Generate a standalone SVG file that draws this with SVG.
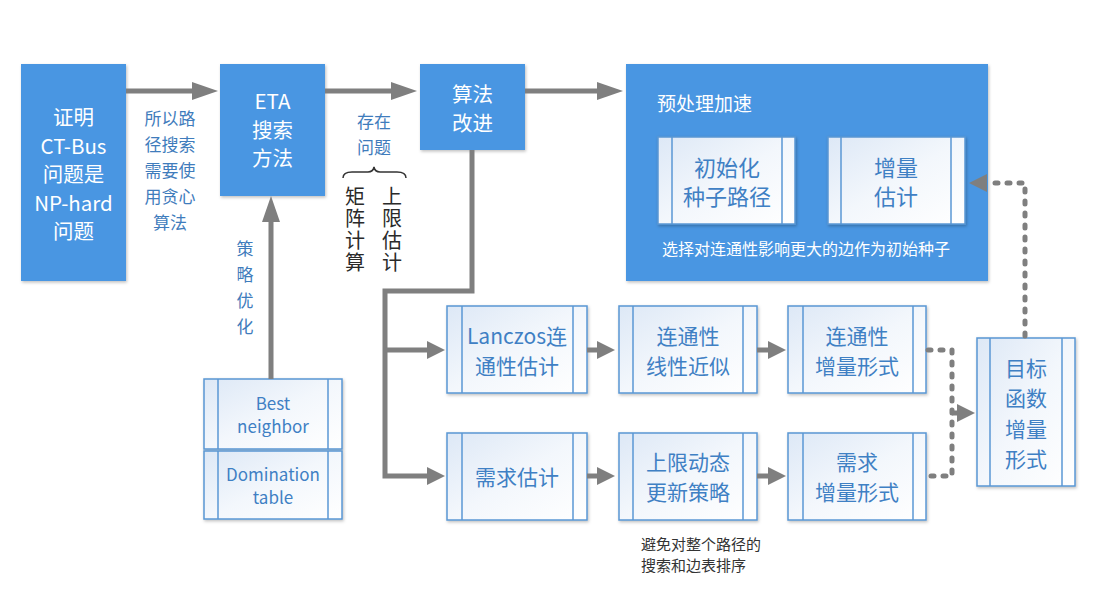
<svg xmlns="http://www.w3.org/2000/svg" width="1098" height="589" viewBox="0 0 1098 589">
<style>
text{font-family:"Noto Sans CJK SC","Open Sans",sans-serif;text-anchor:middle;dominant-baseline:central}
.blue{fill:#4896e2;filter:url(#sh)}
.wt{fill:#fff;font-size:20.5px}
.lb{fill:#3f7cbc;font-size:17px}
.card{fill:url(#g);stroke:#5a97d4;stroke-width:1.5;filter:url(#sh)}
.strip{stroke:#5a97d4;stroke-width:1.5}
.ct{fill:#3f80c4;font-size:21px}
.dk{fill:#2a2a2a;font-size:20px}
.vt{writing-mode:vertical-rl;text-anchor:start}
.cap{fill:#333;font-size:15px;text-anchor:start}
.ln{fill:none;stroke:#7f7f7f;stroke-width:5}
.dash{fill:none;stroke:#7f7f7f;stroke-width:5;stroke-dasharray:3 9;stroke-linecap:round}
</style>
<defs>
<linearGradient id="g" x1="0" y1="0" x2="1" y2="1">
<stop offset="0" stop-color="#dde8f6"/>
<stop offset="0.5" stop-color="#f3f7fc"/>
<stop offset="1" stop-color="#ffffff"/>
</linearGradient>
<filter id="sh" x="-10%" y="-10%" width="120%" height="120%">
<feDropShadow dx="1" dy="1.5" stdDeviation="1.5" flood-color="#000" flood-opacity="0.25"/>
</filter>
<marker id="ah" markerUnits="userSpaceOnUse" markerWidth="26" markerHeight="18" refX="16" refY="9" orient="auto">
<path d="M0,0 L26,9 L0,18 z" fill="#7f7f7f"/>
</marker>
<marker id="as" markerUnits="userSpaceOnUse" markerWidth="18" markerHeight="18" refX="10" refY="9" orient="auto">
<path d="M0,0 L18,9 L0,18 z" fill="#7f7f7f"/>
</marker>
</defs>
<rect width="1098" height="589" fill="#fff"/>

<g id="n-np">
<rect class="blue" x="21" y="64" width="105" height="217"/>
<text class="wt" x="73.5" y="116"><tspan x="73.5">证明</tspan><tspan x="73.5" dy="28.5">CT-Bus</tspan><tspan x="73.5" dy="28.5">问题是</tspan><tspan x="73.5" dy="28.5">NP-hard</tspan><tspan x="73.5" dy="28.5">问题</tspan></text>
</g>
<g id="l-greedy">
<text class="lb" x="170" y="117"><tspan x="170">所以路</tspan><tspan x="170" dy="26">径搜索</tspan><tspan x="170" dy="26">需要使</tspan><tspan x="170" dy="26">用贪心</tspan><tspan x="170" dy="26">算法</tspan></text>
</g>
<g id="n-eta">
<rect class="blue" x="220" y="64" width="105" height="132"/>
<text class="wt" x="272.5" y="100"><tspan x="272.5">ETA</tspan><tspan x="272.5" dy="28.5">搜索</tspan><tspan x="272.5" dy="28.5">方法</tspan></text>
</g>
<g id="l-problem">
<text class="lb" x="374" y="120"><tspan x="374">存在</tspan><tspan x="374" dy="26">问题</tspan></text>
<text class="dk vt" x="355" y="186" style="letter-spacing:2px">矩阵计算</text>
<text class="dk vt" x="392" y="186" style="letter-spacing:2px">上限估计</text>
</g>
<g id="l-strategy">
<text class="lb vt" x="245" y="240" style="letter-spacing:9px">策略优化</text>
</g>
<g id="n-algo">
<rect class="blue" x="420" y="64" width="105" height="86"/>
<text class="wt" x="472.5" y="93"><tspan x="472.5">算法</tspan><tspan x="472.5" dy="29">改进</tspan></text>
</g>
<g id="n-pre">
<rect class="blue" x="626" y="64" width="362" height="217"/>
<text class="wt" x="657" y="102" style="text-anchor:start;font-size:19px">预处理加速</text>
<text x="806" y="248" style="fill:#fff;font-size:16px">选择对连通性影响更大的边作为初始种子</text>
</g>
<g id="n-init">
<rect class="card" x="658" y="137" width="137" height="87"/>
<line class="strip" x1="672" y1="137" x2="672" y2="224"/>
<line class="strip" x1="782" y1="137" x2="782" y2="224"/>
<text class="ct" x="727" y="166" style="font-size:22px"><tspan x="727">初始化</tspan><tspan x="727" dy="29">种子路径</tspan></text>
</g>
<g id="n-incest">
<rect class="card" x="828" y="137" width="137" height="87"/>
<line class="strip" x1="841" y1="137" x2="841" y2="224"/>
<line class="strip" x1="951" y1="137" x2="951" y2="224"/>
<text class="ct" x="896" y="166" style="font-size:22px"><tspan x="896">增量</tspan><tspan x="896" dy="29">估计</tspan></text>
</g>
<g id="n-best">
<rect class="card" x="204" y="379" width="138" height="70"/>
<line class="strip" x1="218" y1="379" x2="218" y2="449"/>
<line class="strip" x1="328" y1="379" x2="328" y2="449"/>
<text class="ct" x="273" y="402" style="font-size:17px"><tspan x="273">Best</tspan><tspan x="273" dy="23">neighbor</tspan></text>
</g>
<g id="n-dom">
<rect class="card" x="204" y="451" width="138" height="68"/>
<line class="strip" x1="218" y1="451" x2="218" y2="519"/>
<line class="strip" x1="328" y1="451" x2="328" y2="519"/>
<text class="ct" x="273" y="473" style="font-size:17px"><tspan x="273">Domination</tspan><tspan x="273" dy="23">table</tspan></text>
</g>
<g id="n-lanczos">
<rect class="card" x="447" y="306" width="140" height="87"/>
<line class="strip" x1="462" y1="306" x2="462" y2="393"/>
<line class="strip" x1="573" y1="306" x2="573" y2="393"/>
<text class="ct" x="517" y="335"><tspan x="517">Lanczos连</tspan><tspan x="517" dy="30">通性估计</tspan></text>
</g>
<g id="n-linear">
<rect class="card" x="619" y="306" width="138" height="87"/>
<line class="strip" x1="633" y1="306" x2="633" y2="393"/>
<line class="strip" x1="743" y1="306" x2="743" y2="393"/>
<text class="ct" x="688" y="335"><tspan x="688">连通性</tspan><tspan x="688" dy="30">线性近似</tspan></text>
</g>
<g id="n-connincr">
<rect class="card" x="788" y="306" width="138" height="87"/>
<line class="strip" x1="803" y1="306" x2="803" y2="393"/>
<line class="strip" x1="913" y1="306" x2="913" y2="393"/>
<text class="ct" x="857" y="335"><tspan x="857">连通性</tspan><tspan x="857" dy="30">增量形式</tspan></text>
</g>
<g id="n-demand">
<rect class="card" x="447" y="433" width="140" height="87"/>
<line class="strip" x1="462" y1="433" x2="462" y2="520"/>
<line class="strip" x1="573" y1="433" x2="573" y2="520"/>
<text class="ct" x="517" y="476">需求估计</text>
</g>
<g id="n-upper">
<rect class="card" x="619" y="433" width="138" height="87"/>
<line class="strip" x1="633" y1="433" x2="633" y2="520"/>
<line class="strip" x1="743" y1="433" x2="743" y2="520"/>
<text class="ct" x="688" y="461"><tspan x="688">上限动态</tspan><tspan x="688" dy="30">更新策略</tspan></text>
</g>
<g id="n-demincr">
<rect class="card" x="788" y="433" width="138" height="87"/>
<line class="strip" x1="803" y1="433" x2="803" y2="520"/>
<line class="strip" x1="913" y1="433" x2="913" y2="520"/>
<text class="ct" x="857" y="461"><tspan x="857">需求</tspan><tspan x="857" dy="30">增量形式</tspan></text>
</g>
<g id="n-obj">
<rect class="card" x="977" y="338" width="98" height="148"/>
<line class="strip" x1="990" y1="338" x2="990" y2="486"/>
<line class="strip" x1="1062" y1="338" x2="1062" y2="486"/>
<text class="ct" x="1026" y="367"><tspan x="1026">目标</tspan><tspan x="1026" dy="30">函数</tspan><tspan x="1026" dy="31">增量</tspan><tspan x="1026" dy="30">形式</tspan></text>
</g>
<g id="l-avoid">
<text class="cap" x="641" y="543"><tspan x="641">避免对整个路径的</tspan><tspan x="641" dy="21">搜索和边表排序</tspan></text>
</g>

<g id="connectors">
<path class="ln" d="M126,91 H208" marker-end="url(#ah)"/>
<path class="ln" d="M325,91 H407" marker-end="url(#ah)"/>
<path class="ln" d="M525,91 H613" marker-end="url(#ah)"/>
<path class="ln" d="M271,379 V206" marker-end="url(#ah)"/>
<path class="ln" d="M472,150 V291 H385 V476 H437" marker-end="url(#as)"/>
<path class="ln" d="M385,350 H437" marker-end="url(#as)"/>
<path class="ln" d="M587,350 H607" marker-end="url(#as)"/>
<path class="ln" d="M757,350 H778" marker-end="url(#as)"/>
<path class="ln" d="M587,476 H607" marker-end="url(#as)"/>
<path class="ln" d="M757,476 H778" marker-end="url(#as)"/>
<path class="dash" d="M928,350 H952 V476 H928"/>
<path class="ln" d="M952,413 H967" marker-end="url(#as)"/>
<path class="dash" d="M1025,336 V183 H991"/>
<path class="ln" d="M986,183 H977" marker-end="url(#as)"/>
<path d="M343,178 Q343,172 352,172 L368,172 Q373,172 374,167 Q375,172 380,172 L397,172 Q406,172 406,178" fill="none" stroke="#333" stroke-width="1.5"/>
</g>
</svg>
